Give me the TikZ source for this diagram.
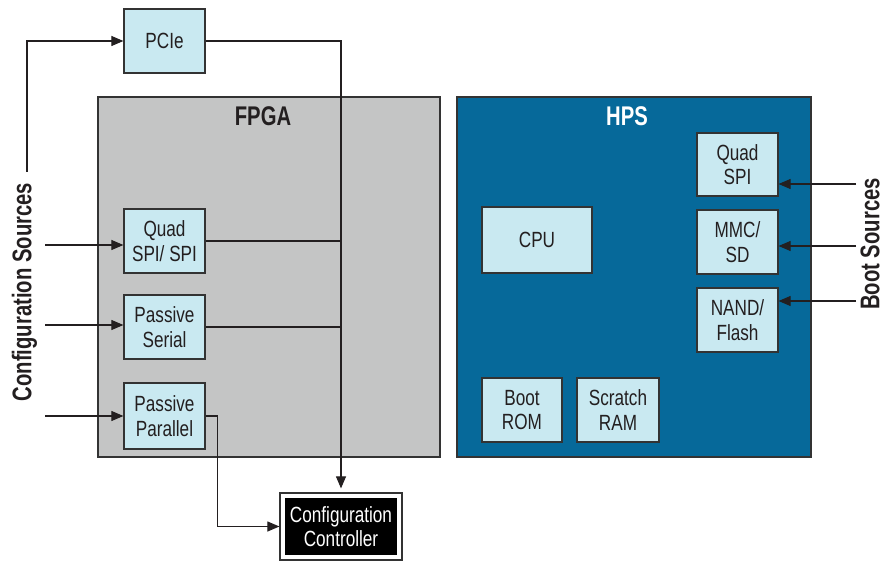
\documentclass[tikz,border=0pt]{standalone}
\usepackage{fontspec}
\setmainfont{Liberation Sans}[FakeStretch=0.78]
\newfontfamily\titlefont{Liberation Sans}[FakeStretch=0.75]
\usetikzlibrary{arrows.meta}
\definecolor{boxfill}{HTML}{C9E9F1}
\definecolor{fpgagray}{HTML}{C4C5C5}
\definecolor{hpsblue}{HTML}{06699A}
\definecolor{edge}{HTML}{333333}
\definecolor{ink}{HTML}{231F20}
\begin{document}
\begin{tikzpicture}[x=1pt,y=-1pt,
  blk/.style={draw=edge, line width=1.2pt, fill=boxfill, inner sep=0pt, align=center,
              font=\fontsize{22}{24.5}\selectfont, text=ink},
  region/.style={draw=edge, line width=1.2pt, inner sep=0pt},
  ttl/.style={font=\titlefont\fontsize{27}{30}\selectfont\bfseries, text=ink, inner sep=0pt},
  arr/.style={line width=1.1pt, draw=ink, -{Triangle[length=12pt,width=10pt]}},
  wire/.style={line width=1.1pt, draw=ink}]
\useasboundingbox (0,0) rectangle (884,561);

% regions
\node[region, fill=fpgagray, minimum width=342pt, minimum height=360pt] (fpga) at (269,277) {};
\node[ttl] (fpgat) at (263,116) {FPGA};
\node[region, fill=hpsblue, minimum width=354pt, minimum height=360pt] (hps) at (634,277) {};
\node[ttl, text=white] (hpst) at (627,116) {HPS};

% FPGA side blocks
\node[blk, minimum width=81pt, minimum height=64pt] (pcie) at (164.5,41) {PCIe};
\node[blk, minimum width=81pt, minimum height=64pt] (qspi) at (164.5,241) {Quad\\SPI/ SPI};
\node[blk, minimum width=81pt, minimum height=64pt] (pser) at (164.5,327) {Passive\\Serial};
\node[blk, minimum width=81pt, minimum height=66pt] (ppar) at (164.5,416) {Passive\\Parallel};

% controller
\node[draw=edge, line width=1.2pt, fill=white, minimum width=122pt, minimum height=67pt, inner sep=0pt] (ctrlo) at (341,526.5) {};
\node[fill=black, minimum width=112pt, minimum height=57pt, inner sep=0pt, align=center,
      text=white, font=\fontsize{22}{24.5}\selectfont] (ctrl) at (341,526.5) {Configuration\\Controller};

% HPS blocks
\node[blk, minimum width=110pt, minimum height=66pt] (cpu) at (537,240) {CPU};
\node[blk, minimum width=80pt, minimum height=64pt] (brom) at (522,410) {Boot\\ROM};
\node[blk, minimum width=82pt, minimum height=64pt] (sram) at (618,410) {Scratch\\RAM};
\node[blk, minimum width=81pt, minimum height=63pt] (hqspi) at (737.5,164.5) {Quad\\SPI};
\node[blk, minimum width=81pt, minimum height=64pt] (mmc) at (737.5,242) {MMC/\\SD};
\node[blk, minimum width=81pt, minimum height=64pt] (nand) at (737.5,320) {NAND/\\Flash};

% side labels
\node[ttl, rotate=90] (cfg) at (24.5,292) {Configuration Sources};
\node[ttl, rotate=90] (boot) at (870,244) {Boot Sources};

% coordinates
\coordinate (cfgtop) at (27,172);
\coordinate (bus) at (341,40);
\coordinate (in1) at (45,245);
\coordinate (in2) at (45,325);
\coordinate (in3) at (45,416);
\coordinate (b1) at (856,184);
\coordinate (b2) at (856,246);
\coordinate (b3) at (856,301);

% configuration connectors
\draw[arr] (cfgtop) |- (pcie.west);
\draw[arr, shorten >=4pt] (pcie.east) -| (ctrlo.north);
\draw[wire] (qspi.east) -- (qspi.east -| bus);
\draw[wire] (pser.east) -- (pser.east -| bus);
\draw[arr] (ppar.east) -- ++(12,0) |- (ctrlo.west);
\draw[arr] (in1) -- (in1 -| qspi.west);
\draw[arr] (in2) -- (in2 -| pser.west);
\draw[arr] (in3) -- (in3 -| ppar.west);

% boot connectors
\draw[arr] (b1) -- (b1 -| hqspi.east);
\draw[arr] (b2) -- (b2 -| mmc.east);
\draw[arr] (b3) -- (b3 -| nand.east);
\end{tikzpicture}
\end{document}
